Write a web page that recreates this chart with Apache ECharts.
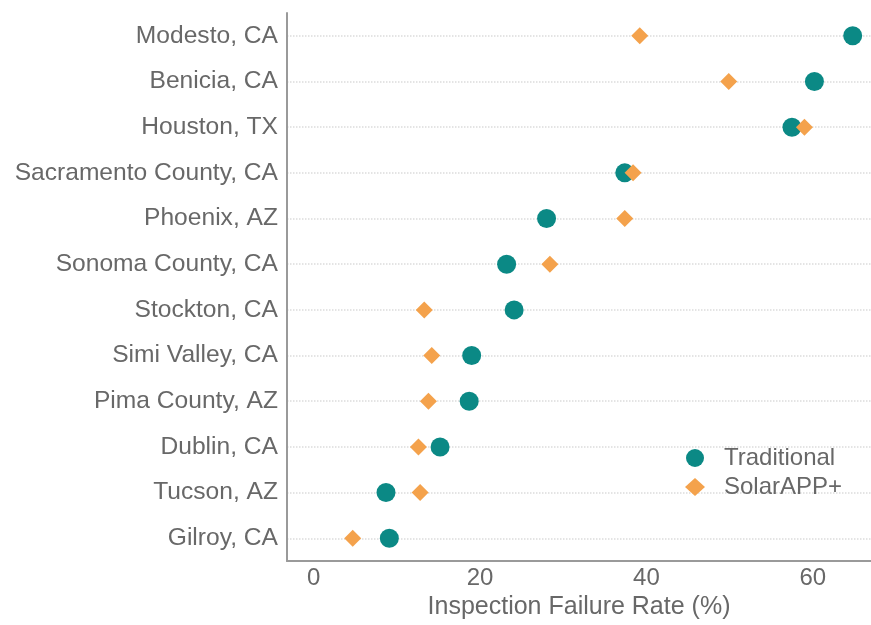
<!DOCTYPE html>
<html>
<head>
<meta charset="utf-8">
<script src="https://cdn.jsdelivr.net/npm/echarts@6/dist/echarts.min.js"></script>
<style>
html,body{margin:0;padding:0;background:#fff;}
#chart{width:871px;height:625px;}
</style>
</head>
<body>
<div id="chart"></div>
<script>
// Categories from top to bottom
const categories = ["Modesto, CA","Benicia, CA","Houston, TX","Sacramento County, CA","Phoenix, AZ","Sonoma County, CA","Stockton, CA","Simi Valley, CA","Pima County, AZ","Dublin, CA","Tucson, AZ","Gilroy, CA"];
const traditional = [64.8, 60.2, 57.5, 37.4, 28.0, 23.2, 24.1, 19.0, 18.7, 15.2, 8.7, 9.1];
const solarapp = [39.2, 49.9, 59.0, 38.4, 37.4, 28.4, 13.3, 14.2, 13.8, 12.6, 12.8, 4.7];
const xTicks = [0, 20, 40, 60];

const chart = echarts.init(document.getElementById('chart'));
const font = 'Liberation Sans, Arial, sans-serif';
const textColor = '#686868';
chart.setOption({
  animation: false,
  backgroundColor: '#fff',
  grid: {left: 287, right: 0, top: 13, bottom: 61, containLabel: false},
  legend: {
    orient: 'vertical', left: 680, top: 441,
    itemWidth: 20, itemHeight: 18, itemGap: 5,
    textStyle: {fontSize: 24, color: textColor, fontFamily: font, padding: [0, 0, 0, 14]},
    data: [{name: 'Traditional', icon: 'circle'}, {name: 'SolarAPP+', icon: 'diamond'}]
  },
  xAxis: {
    type: 'value', min: -3.2, max: 67, minInterval: 20, maxInterval: 20,
    name: 'Inspection Failure Rate (%)', nameLocation: 'middle', nameGap: 31,
    nameTextStyle: {fontSize: 25, color: textColor, fontFamily: font},
    axisLine: {show: true, onZero: false, lineStyle: {color: '#9a9a9a', width: 2}},
    axisTick: {show: false},
    splitLine: {show: false},
    axisLabel: {fontSize: 24, color: textColor, fontFamily: font, margin: 5,
      showMinLabel: false, showMaxLabel: false,
      formatter: v => xTicks.indexOf(v) >= 0 ? String(v) : ''}
  },
  yAxis: {
    type: 'category', data: categories, inverse: true,
    axisLine: {show: true, onZero: false, lineStyle: {color: '#9a9a9a', width: 2}},
    axisTick: {show: false},
    axisLabel: {fontSize: 24.6, color: textColor, fontFamily: font, margin: 9},
    splitLine: {show: true, alignWithLabel: true, lineStyle: {color: '#dcdcdc', type: 'dotted', width: 1.5}}
  },
  series: [
    {name: 'Traditional', type: 'scatter', symbol: 'circle', symbolSize: 19,
     itemStyle: {color: '#0b8985', opacity: 1},
     data: traditional.map((v, i) => [v, categories[i]])},
    {name: 'SolarAPP+', type: 'scatter', symbol: 'diamond', symbolSize: 17,
     itemStyle: {color: '#f4a24c', opacity: 1},
     data: solarapp.map((v, i) => [v, categories[i]])}
  ]
});
</script>
</body>
</html>
